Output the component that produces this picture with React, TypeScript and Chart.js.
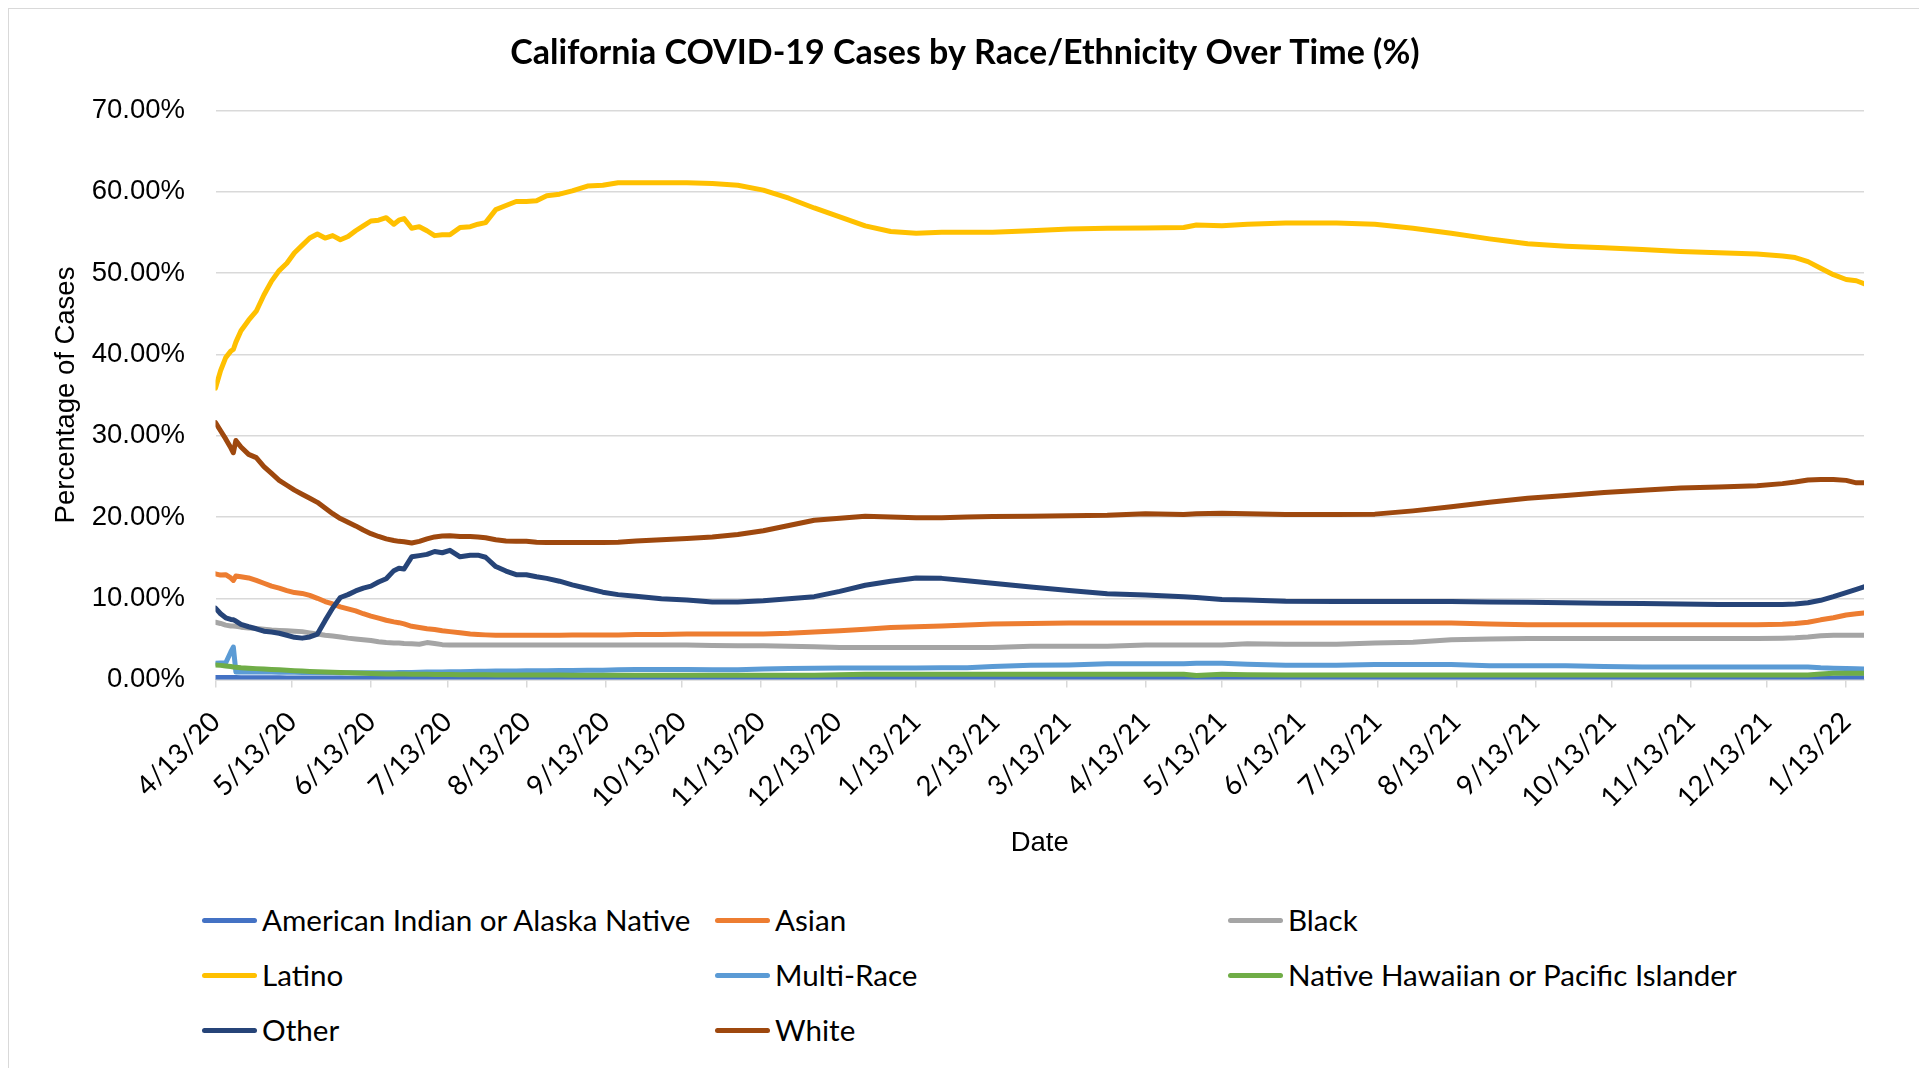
import React, { useEffect, useRef } from "react";
import { Chart, registerables } from "chart.js";

Chart.register(...registerables);

// x values: days since 4/13/20
const sampleDay = [
  0, 2, 4, 6, 7, 8, 10, 13, 16, 19, 22, 25, 28, 31, 34, 37, 40, 43, 46, 49, 52, 55, 58, 61, 64, 67, 70, 72, 74, 77,
  80, 83, 86, 89, 92, 96, 100, 103, 106, 110, 114, 118, 122, 126, 130, 135, 140, 146, 152, 158, 165, 175, 185, 195,
  205, 215, 225, 235, 245, 255, 265, 275, 285, 295, 305, 320, 335, 350, 365, 380, 385, 395, 405, 420, 440, 455, 470,
  485, 500, 515, 530, 545, 560, 575, 590, 605, 615, 620, 625, 630, 635, 640, 644, 647,
];

const americanIndian = [
  0.25, 0.25, 0.25, 0.25, 0.25, 0.25, 0.24, 0.24, 0.23, 0.23, 0.22, 0.22, 0.21, 0.21, 0.2, 0.2, 0.2, 0.19, 0.19, 0.19,
  0.18, 0.18, 0.18, 0.18, 0.17, 0.17, 0.17, 0.17, 0.17, 0.16, 0.16, 0.16, 0.16, 0.16, 0.16, 0.15, 0.15, 0.15, 0.15,
  0.15, 0.15, 0.15, 0.15, 0.15, 0.15, 0.15, 0.15, 0.15, 0.15, 0.12, 0.12, 0.12, 0.12, 0.12, 0.12, 0.12, 0.12, 0.12,
  0.12, 0.12, 0.12, 0.12, 0.12, 0.12, 0.12, 0.12, 0.12, 0.12, 0.12, 0.12, 0.12, 0.12, 0.12, 0.12, 0.12, 0.12, 0.1,
  0.1, 0.1, 0.1, 0.1, 0.1, 0.1, 0.1, 0.1, 0.1, 0.1, 0.1, 0.1, 0.15, 0.2, 0.22, 0.22, 0.22,
];

const asian = [
  13.0, 12.85, 12.9, 12.5, 12.2, 12.75, 12.65, 12.5, 12.2, 11.85, 11.5, 11.25, 10.95, 10.7, 10.6, 10.35, 10.0, 9.6,
  9.3, 8.95, 8.7, 8.45, 8.1, 7.8, 7.55, 7.3, 7.1, 7.0, 6.85, 6.55, 6.4, 6.25, 6.15, 6.0, 5.9, 5.75, 5.6, 5.55, 5.5,
  5.45, 5.45, 5.45, 5.45, 5.45, 5.45, 5.45, 5.5, 5.5, 5.5, 5.5, 5.55, 5.55, 5.6, 5.6, 5.6, 5.62, 5.7, 5.85, 6.0, 6.2,
  6.4, 6.5, 6.6, 6.7, 6.85, 6.9, 6.95, 6.95, 6.95, 6.95, 6.95, 6.95, 6.95, 6.95, 6.95, 6.95, 6.95, 6.95, 6.85, 6.75,
  6.75, 6.75, 6.75, 6.75, 6.75, 6.75, 6.8, 6.9, 7.05, 7.35, 7.6, 7.95, 8.1, 8.2,
];

const black = [
  7.05, 6.9, 6.7, 6.6, 6.6, 6.55, 6.45, 6.35, 6.3, 6.2, 6.1, 6.05, 6.0, 5.95, 5.9, 5.75, 5.6, 5.45, 5.35, 5.25, 5.1,
  5.0, 4.9, 4.8, 4.65, 4.55, 4.5, 4.5, 4.45, 4.4, 4.35, 4.55, 4.45, 4.3, 4.25, 4.25, 4.25, 4.25, 4.25, 4.25, 4.25,
  4.25, 4.25, 4.25, 4.25, 4.25, 4.25, 4.25, 4.25, 4.25, 4.25, 4.25, 4.25, 4.2, 4.15, 4.15, 4.1, 4.05, 3.95, 3.95,
  3.95, 3.95, 3.95, 3.95, 3.95, 4.1, 4.1, 4.1, 4.25, 4.25, 4.25, 4.25, 4.4, 4.35, 4.35, 4.5, 4.6, 4.9, 5.0, 5.05, 5.05,
  5.05, 5.05, 5.05, 5.05, 5.05, 5.1, 5.15, 5.25, 5.4, 5.45, 5.45, 5.45, 5.45,
];

const latino = [
  35.85, 38.0, 39.6, 40.4, 40.6, 41.5, 42.9, 44.2, 45.3, 47.3, 49.0, 50.3, 51.2, 52.5, 53.4, 54.3, 54.8, 54.3, 54.6,
  54.1, 54.5, 55.2, 55.8, 56.4, 56.5, 56.8, 56.0, 56.5, 56.7, 55.5, 55.7, 55.2, 54.6, 54.7, 54.7, 55.6, 55.7, 56.0,
  56.2, 57.8, 58.3, 58.8, 58.8, 58.9, 59.5, 59.7, 60.1, 60.7, 60.8, 61.1, 61.1, 61.1, 61.1, 61.0, 60.8, 60.2, 59.2,
  58.0, 56.9, 55.8, 55.1, 54.9, 55.0, 55.0, 55.0, 55.2, 55.4, 55.5, 55.55, 55.6, 55.9, 55.8, 56.0, 56.15, 56.15, 56.0,
  55.5, 54.9, 54.2, 53.6, 53.3, 53.1, 52.9, 52.65, 52.5, 52.35, 52.1, 51.9, 51.4, 50.6, 49.8, 49.2, 49.05, 48.7,
];

const multiRace = [
  2.0, 2.05, 2.05, 3.4, 4.0, 0.95, 0.95, 0.95, 0.95, 0.93, 0.92, 0.9, 0.9, 0.9, 0.88, 0.88, 0.87, 0.86, 0.86, 0.85,
  0.85, 0.85, 0.85, 0.85, 0.85, 0.85, 0.85, 0.86, 0.87, 0.88, 0.9, 0.92, 0.93, 0.95, 0.97, 0.98, 1.0, 1.02, 1.03,
  1.05, 1.06, 1.07, 1.08, 1.1, 1.1, 1.12, 1.13, 1.15, 1.15, 1.2, 1.25, 1.25, 1.25, 1.22, 1.2, 1.3, 1.38, 1.4, 1.42,
  1.42, 1.44, 1.44, 1.45, 1.45, 1.6, 1.75, 1.8, 1.95, 1.95, 1.95, 2.0, 2.0, 1.9, 1.75, 1.75, 1.85, 1.85, 1.85, 1.7,
  1.7, 1.7, 1.6, 1.55, 1.55, 1.55, 1.55, 1.55, 1.55, 1.55, 1.45, 1.4, 1.35, 1.32, 1.3,
];

const nativeHawaiian = [
  1.8, 1.75, 1.68, 1.6, 1.55, 1.52, 1.45, 1.4, 1.35, 1.3, 1.25, 1.2, 1.15, 1.1, 1.05, 1.0, 0.97, 0.93, 0.9, 0.87,
  0.84, 0.8, 0.77, 0.74, 0.72, 0.7, 0.69, 0.68, 0.68, 0.67, 0.66, 0.65, 0.64, 0.63, 0.62, 0.61, 0.6, 0.6, 0.6, 0.58,
  0.58, 0.57, 0.57, 0.56, 0.56, 0.56, 0.55, 0.55, 0.55, 0.55, 0.55, 0.55, 0.55, 0.55, 0.55, 0.55, 0.55, 0.55, 0.6,
  0.65, 0.65, 0.65, 0.65, 0.65, 0.65, 0.65, 0.65, 0.65, 0.65, 0.65, 0.5, 0.65, 0.6, 0.58, 0.56, 0.56, 0.56, 0.56, 0.56,
  0.56, 0.56, 0.56, 0.56, 0.56, 0.56, 0.56, 0.56, 0.56, 0.56, 0.7, 0.77, 0.77, 0.77, 0.77,
];

const other = [
  8.8, 8.1, 7.6, 7.4, 7.35, 7.2, 6.8, 6.5, 6.25, 5.95, 5.85, 5.7, 5.45, 5.2, 5.1, 5.25, 5.6, 7.25, 8.8, 10.1, 10.45,
  10.9, 11.25, 11.5, 12.0, 12.4, 13.4, 13.7, 13.6, 15.1, 15.25, 15.4, 15.75, 15.6, 15.9, 15.1, 15.3, 15.3, 15.05, 13.9,
  13.35, 12.9, 12.9, 12.65, 12.45, 12.1, 11.65, 11.2, 10.75, 10.45, 10.25, 9.95, 9.8, 9.55, 9.55, 9.7, 9.95, 10.2,
  10.85, 11.6, 12.1, 12.5, 12.45, 12.15, 11.85, 11.4, 10.95, 10.55, 10.4, 10.2, 10.1, 9.85, 9.8, 9.65, 9.6, 9.6, 9.6,
  9.6, 9.55, 9.5, 9.45, 9.4, 9.35, 9.3, 9.25, 9.25, 9.25, 9.3, 9.45, 9.75, 10.2, 10.7, 11.1, 11.4,
];

const white = [
  31.6, 30.6, 29.6, 28.5, 27.9, 29.4, 28.6, 27.7, 27.3, 26.2, 25.35, 24.5, 23.9, 23.3, 22.8, 22.3, 21.8, 21.1, 20.4,
  19.8, 19.35, 18.9, 18.4, 17.95, 17.6, 17.3, 17.1, 17.0, 16.95, 16.8, 17.0, 17.3, 17.55, 17.65, 17.7, 17.6, 17.6,
  17.55, 17.45, 17.2, 17.05, 17.0, 17.0, 16.9, 16.85, 16.85, 16.85, 16.85, 16.85, 16.9, 17.05, 17.2, 17.35, 17.55,
  17.85, 18.3, 18.95, 19.6, 19.85, 20.1, 20.0, 19.9, 19.9, 20.0, 20.05, 20.1, 20.15, 20.2, 20.4, 20.3, 20.4, 20.45,
  20.4, 20.3, 20.3, 20.35, 20.75, 21.25, 21.8, 22.3, 22.65, 23.0, 23.3, 23.55, 23.7, 23.85, 24.1, 24.3, 24.55, 24.6,
  24.6, 24.5, 24.2, 24.2,
];

const seriesNames = [
  "American Indian or Alaska Native",
  "Asian",
  "Black",
  "Latino",
  "Multi-Race",
  "Native Hawaiian or Pacific Islander",
  "Other",
  "White",
];
const seriesValues = [americanIndian, asian, black, latino, multiRace, nativeHawaiian, other, white];
const seriesColors = ["#4472C4", "#ED7D31", "#A5A5A5", "#FFC000", "#5B9BD5", "#70AD47", "#264478", "#9E480E"];

const tickLabels = [
  "4/13/20", "5/13/20", "6/13/20", "7/13/20", "8/13/20", "9/13/20", "10/13/20", "11/13/20", "12/13/20",
  "1/13/21", "2/13/21", "3/13/21", "4/13/21", "5/13/21", "6/13/21", "7/13/21", "8/13/21", "9/13/21",
  "10/13/21", "11/13/21", "12/13/21", "1/13/22",
];

const yTicks = [0, 10, 20, 30, 40, 50, 60, 70];

const titleText = "California COVID-19 Cases by Race/Ethnicity Over Time (%)";
const xTitle = "Date";
const yTitle = "Percentage of Cases";

function daysFromStart(label: string): number {
  const [m, d, y] = label.split("/").map(Number);
  return Math.round((Date.UTC(2000 + y, m - 1, d) - Date.UTC(2020, 3, 13)) / 86400000);
}

const CANVAS_W = 1912;
const CANVAS_H = 880;

export default function App() {
  const ref = useRef<HTMLCanvasElement | null>(null);

  useEffect(() => {
    if (!ref.current) return;
    const tickDays = tickLabels.map(daysFromStart);
    const lastDay = sampleDay[sampleDay.length - 1];
    const datasets = seriesNames.map((name, i) => ({
      label: name,
      data: sampleDay.map((d, j) => ({ x: d, y: seriesValues[i][j] })),
      borderColor: seriesColors[i],
      backgroundColor: seriesColors[i],
      borderWidth: 5,
      pointRadius: 0,
      tension: 0,
      fill: false,
      order: seriesNames.length - i,
      xAxisID: "x",
      yAxisID: "y",
    }));
    const chart = new Chart(ref.current, {
      type: "line",
      data: { datasets },
      options: {
        animation: false,
        responsive: false,
        parsing: false as any,
        layout: { padding: { top: 0, left: 0, right: 0, bottom: 0 } },
        elements: { line: { borderCapStyle: "round", borderJoinStyle: "round" } },
        plugins: {
          legend: { display: false },
          tooltip: { enabled: false },
          title: {
            display: true,
            text: titleText,
            color: "#000",
            font: { family: "Lato", weight: "bold", size: 34, lineHeight: 1.2 },
            padding: { top: 23.5, bottom: 37.1 },
          },
        },
        scales: {
          x: {
            type: "linear",
            min: 0,
            max: lastDay,
            afterBuildTicks: (s: any) => {
              s.ticks = tickDays.map((v) => ({ value: v }));
            },
            afterFit: (s: any) => {
              s.height = 209.4;
            },
            ticks: {
              autoSkip: false,
              minRotation: 45,
              maxRotation: 45,
              padding: 18,
              color: "#000",
              font: { family: "Lato", size: 27.5, lineHeight: 1.2 },
              callback: (_v: any, i: number) => tickLabels[i],
            },
            grid: {
              drawOnChartArea: false,
              drawTicks: true,
              tickLength: 8,
              color: "#d9d9d9",
              lineWidth: 1.5,
            },
            border: { color: "#d9d9d9", width: 1.5 },
            title: {
              display: true,
              text: xTitle,
              color: "#000",
              font: { family: "Liberation Sans", size: 27.5, lineHeight: 1.2 },
              padding: { top: 0, bottom: 29.5 },
            },
          },
          y: {
            type: "linear",
            position: "left",
            min: 0,
            max: 70,
            afterBuildTicks: (s: any) => {
              s.ticks = yTicks.map((v) => ({ value: v }));
            },
            afterFit: (s: any) => {
              s.width = 206.5;
            },
            ticks: {
              padding: 30.5,
              color: "#000",
              font: { family: "Liberation Sans", size: 27.5 },
              callback: (v: any) => Number(v).toFixed(2) + "%",
            },
            grid: { color: "#d9d9d9", lineWidth: 1.5, drawTicks: false },
            border: { display: false },
            title: {
              display: true,
              text: yTitle,
              color: "#000",
              font: { family: "Liberation Sans", size: 27.5, lineHeight: 1.2 },
              padding: { top: 40.5, bottom: 0 },
            },
          },
          rightSpace: {
            type: "linear",
            position: "right",
            display: true,
            min: 0,
            max: 1,
            grid: { display: false, drawTicks: false },
            border: { display: false },
            ticks: { display: false },
            afterFit: (s: any) => {
              s.width = 57;
            },
          },
        },
      } as any,
    });
    return () => chart.destroy();
  }, []);

  const rowCenters = [911, 966, 1021];
  const colLefts = [193, 706, 1219];

  return (
    <div
      style={{
        position: "relative",
        width: 1914,
        height: 1070,
        border: "1px solid #d9d9d9",
        boxSizing: "border-box",
        background: "#fff",
      }}
    >
      <style>{"html,body{overflow:hidden}"}</style>
      <canvas
        ref={ref}
        width={CANVAS_W}
        height={CANVAS_H}
        style={{ position: "absolute", left: 0, top: 0, width: CANVAS_W, height: CANVAS_H }}
      />
      {seriesNames.map((name, i) => {
        const row = Math.floor(i / 3);
        const col = i % 3;
        return (
          <div
            key={name}
            style={{
              position: "absolute",
              left: colLefts[col],
              top: rowCenters[row] - 20,
              height: 40,
              display: "flex",
              alignItems: "center",
              whiteSpace: "nowrap",
            }}
          >
            <div
              style={{ width: 55, height: 5, borderRadius: 2.5, background: seriesColors[i], flex: "none" }}
            />
            <span style={{ marginLeft: 5, fontFamily: "Lato", fontSize: 29.6, color: "#000", lineHeight: "40px" }}>
              {name}
            </span>
          </div>
        );
      })}
    </div>
  );
}
